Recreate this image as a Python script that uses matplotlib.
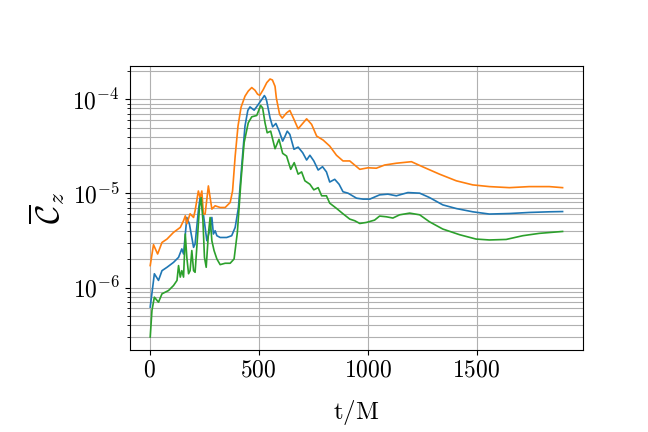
import numpy as np
import matplotlib
matplotlib.use("Agg")
import matplotlib.pyplot as plt

plt.rcParams['mathtext.fontset'] = 'cm'
plt.rcParams['font.family'] = 'serif'
plt.rcParams['font.serif'] = ['cmr10', 'DejaVu Serif']
plt.rcParams['axes.formatter.use_mathtext'] = True

# values (C in units of 1e-6)
t_blue = [2, 21, 40, 56, 79, 109, 132, 147, 155, 170, 182, 193, 201, 208, 223, 231,
          246, 262, 277, 285, 292, 300, 308, 323, 353, 376, 392, 407, 422, 437, 450, 460,
          479, 498, 514, 520, 526, 532, 537, 552, 564, 579, 594, 610, 620, 631, 643, 662,
          681, 702, 720, 735, 753, 773, 793, 811, 826, 849, 869, 887, 910, 949, 979, 1010,
          1055, 1093, 1132, 1185, 1239, 1284, 1345, 1407, 1483, 1559, 1651, 1742, 1834, 1895]
c_blue = [0.62, 1.40, 1.19, 1.51, 1.64, 1.85, 2.09, 2.57, 2.27, 5.55, 4.72, 3.40, 2.67,
          2.90, 6.53, 9.03, 6.03, 3.14, 4.18, 5.55, 3.70, 4.01, 3.55, 3.40, 3.40, 3.55,
          4.35, 7.08, 19.5, 51.8, 76.0, 82.9, 76.5, 87.9, 99.3, 104.0, 109.4, 104.0, 95.2,
          63.4, 50.9, 55.3, 45.8, 35.9, 40.0, 45.8, 42.3, 29.4, 31.0, 27.0, 22.6, 25.4,
          22.1, 17.7, 19.2, 16.9, 13.2, 14.1, 12.5, 10.4, 10.05, 8.89, 8.69, 8.69, 9.64,
          9.81, 9.42, 10.2, 10.05, 9.03, 7.55, 6.90, 6.37, 6.03, 6.11, 6.27, 6.37, 6.41]

t_orange = [2, 17, 36, 56, 79, 109, 140, 155, 163, 170, 185, 201, 208, 223, 231, 239,
            246, 254, 269, 277, 285, 300, 323, 346, 369, 380, 392, 405, 419, 437, 452, 468,
            483, 495, 505, 521, 537, 552, 563, 575, 581, 596, 608, 628, 643, 662, 681, 702,
            720, 743, 766, 796, 826, 857, 887, 918, 964, 1002, 1040, 1078, 1132, 1201, 1254,
            1330, 1407, 1483, 1559, 1651, 1742, 1834, 1895]
c_orange = [1.71, 2.85, 2.27, 3.01, 3.27, 3.85, 4.35, 5.12, 5.78, 4.75, 6.07, 5.55, 6.53,
            10.6, 9.03, 10.6, 6.03, 6.03, 12.0, 9.03, 6.81, 7.38, 7.08, 7.08, 8.0, 10.6,
            24.9, 51.8, 82.3, 107.6, 122.0, 133.0, 124.5, 113.0, 110.0, 126.7, 150.0,
            164.0, 160.0, 137.0, 103.0, 69.0, 63.0, 71.6, 76.0, 61.0, 48.5, 55.3, 61.9,
            54.0, 40.6, 36.8, 31.8, 25.4, 22.1, 22.1, 18.0, 18.7, 18.5, 20.0, 20.9, 21.7,
            19.1, 16.0, 13.6, 12.3, 11.8, 11.5, 11.8, 11.8, 11.5]

t_green = [2, 10, 21, 40, 56, 86, 109, 125, 132, 140, 147, 155, 163, 170, 178, 185, 193,
           201, 208, 219, 228, 236, 244, 251, 259, 269, 277, 285, 295, 308, 323, 346, 369,
           387, 402, 418, 433, 452, 468, 491, 509, 518, 529, 539, 555, 575, 593, 610, 628,
           647, 663, 681, 697, 712, 735, 753, 773, 789, 811, 826, 857, 887, 918, 941, 964,
           994, 1032, 1055, 1086, 1116, 1147, 1193, 1239, 1284, 1345, 1422, 1498, 1559,
           1636, 1712, 1788, 1895]
c_green = [0.298, 0.571, 0.789, 0.698, 0.857, 0.929, 1.05, 1.19, 1.71, 1.29, 1.51, 1.29,
           3.70, 2.09, 1.40, 1.51, 2.47, 1.51, 1.45, 3.40, 7.08, 9.03, 5.12, 2.09, 1.64,
           3.70, 5.55, 3.14, 2.47, 2.01, 1.75, 1.81, 1.81, 2.01, 3.85, 13.0, 34.5, 56.1,
           65.0, 67.2, 85.8, 80.9, 56.1, 44.0, 45.8, 29.8, 37.5, 26.6, 24.9, 18.0, 21.2,
           16.0, 16.9, 13.6, 12.5, 10.9, 11.5, 9.42, 9.42, 7.87, 6.93, 6.07, 5.33, 5.12,
           4.79, 4.91, 5.20, 5.74, 5.64, 5.47, 5.92, 6.17, 5.92, 4.99, 4.18, 3.64, 3.27,
           3.20, 3.24, 3.55, 3.76, 3.94]

fig, ax = plt.subplots(figsize=(6.48, 4.32), dpi=100)
fig.subplots_adjust(left=0.2, right=0.9, top=0.847, bottom=0.19)

ax.plot(t_blue, np.array(c_blue) * 1e-6, color='C0', lw=1.2)
ax.plot(t_orange, np.array(c_orange) * 1e-6, color='C1', lw=1.2)
ax.plot(t_green, np.array(c_green) * 1e-6, color='C2', lw=1.2)

ax.set_yscale('log')
ax.grid(True, which='both', color='#b0b0b0', lw=0.8)
ax.set_xticks([0, 500, 1000, 1500])
ax.tick_params(labelsize=17)
ax.set_xlabel(r'$\mathrm{t/M}$', fontsize=18, labelpad=12)
ax.set_ylabel(r'$\overline{\mathcal{C}}_z$', fontsize=24)

plt.savefig("out.png", dpi=100)
